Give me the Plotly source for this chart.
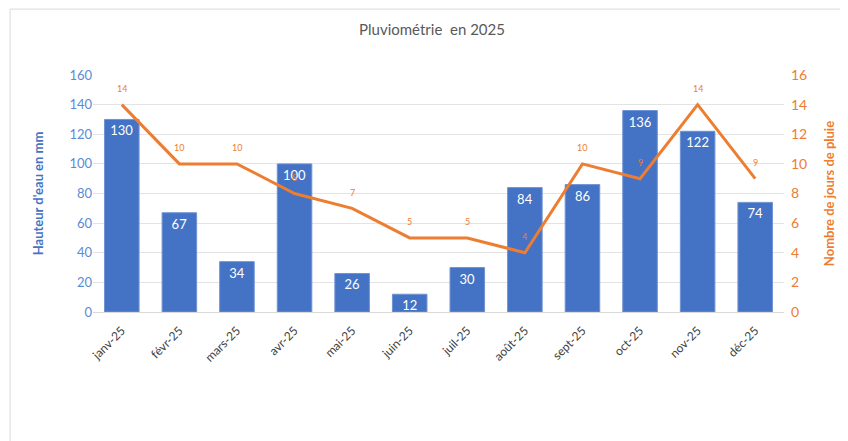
import plotly.graph_objects as go

# Pluviométrie 2025
mois = ['janv-25', 'févr-25', 'mars-25', 'avr-25', 'mai-25', 'juin-25',
        'juil-25', 'août-25', 'sept-25', 'oct-25', 'nov-25', 'déc-25']
hauteur_mm = [130, 67, 34, 100, 26, 12, 30, 84, 86, 136, 122, 74]
jours_pluie = [14, 10, 10, 8, 7, 5, 5, 4, 10, 9, 14, 9]

bleu = '#4472C4'
orange = '#ED7D31'
police = 'Lato'

fig = go.Figure()
fig.add_trace(go.Bar(
    x=mois, y=hauteur_mm, name="Hauteur d'eau en mm",
    marker=dict(color=bleu, line=dict(color='#6F93D3', width=1)),
    text=hauteur_mm, textposition='inside', insidetextanchor='end',
    textangle=0, constraintext='none',
    textfont=dict(color='white', size=13, family=police),
))
fig.add_trace(go.Scatter(
    x=mois, y=jours_pluie, name='Nombre de jours de pluie', yaxis='y2',
    mode='lines', line=dict(color=orange, width=3),
))

# étiquettes de la courbe, un peu au-dessus des points
for m, j in zip(mois, jours_pluie):
    fig.add_annotation(x=m, y=j, yref='y2', text=str(j), showarrow=False,
                       yshift=16, font=dict(color=orange, size=9, family=police))

fig.update_layout(
    width=848, height=441,
    margin=dict(l=85, r=72, t=67, b=137),
    paper_bgcolor='white', plot_bgcolor='white',
    showlegend=False, bargap=0.4,
    font=dict(family=police, color='#595959'),
    title=dict(text='Pluviométrie  en 2025', x=0.5, xanchor='center',
               y=0.95, yanchor='middle',
               font=dict(size=15, color='#595959', family=police)),
    xaxis=dict(tickangle=-45, tickfont=dict(size=12, color='#404040', family=police),
               showline=True, linecolor='#D9D9D9', linewidth=1, ticks='',
               ticklabelstandoff=6, automargin=False),
    yaxis=dict(range=[0, 160], dtick=20, gridcolor='#E3E3E3', zeroline=False,
               tickfont=dict(size=13, color='#5B8BD6', family=police),
               automargin=False,
               title=dict(text="<b>Hauteur d'eau en mm</b>",
                          font=dict(size=13, color=bleu, family=police),
                          standoff=22)),
    yaxis2=dict(range=[0, 16], dtick=2, overlaying='y', side='right',
                showgrid=False, zeroline=False, automargin=False,
                ticklabelstandoff=6,
                tickfont=dict(size=14, color=orange, family=police),
                title=dict(text='<b>Nombre de jours de pluie</b>',
                           font=dict(size=13, color=orange, family=police),
                           standoff=18)),
)

# cadre du graphique
fig.add_shape(type='rect', xref='paper', yref='paper',
              x0=-0.12, x1=1.2, y0=-0.7, y1=1.278,
              line=dict(color='#D9D9D9', width=1))

fig.write_html("out.html")
